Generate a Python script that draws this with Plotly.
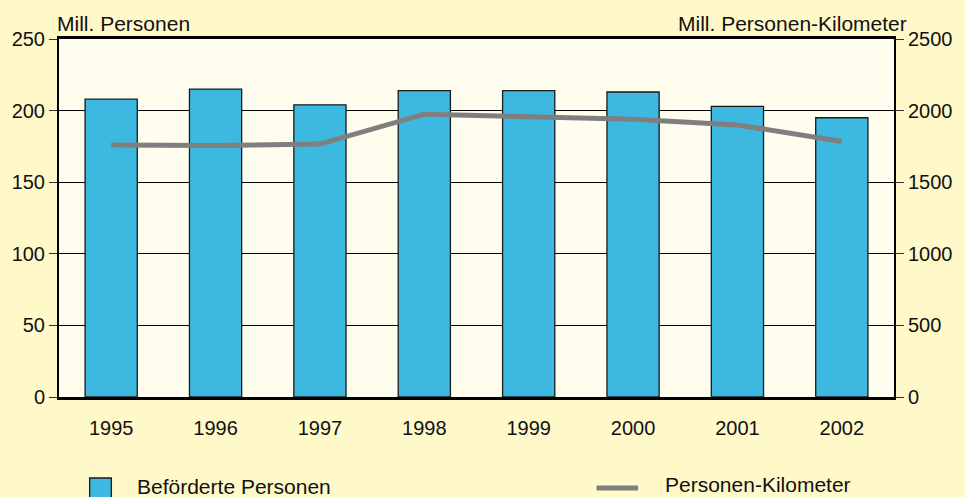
import plotly.graph_objects as go

# Data
years = ["1995", "1996", "1997", "1998", "1999", "2000", "2001", "2002"]
persons = [208, 215, 204, 214, 214, 213, 203, 195]            # Mill. Personen
person_km = [1760, 1757, 1766, 1975, 1957, 1940, 1900, 1784]  # Mill. Personen-Kilometer

left_ticks = [0, 50, 100, 150, 200, 250]
right_ticks = [0, 500, 1000, 1500, 2000, 2500]

# Styling
W, H = 965, 497
L, R, T, B = 57, 902, 39, 397
FONT = "Liberation Sans, Arial, sans-serif"
BAR_COLOR = "#3db8e0"
LINE_COLOR = "#7f7f7f"
PAPER_BG = "#fff9c9"
PLOT_BG = "#fffdee"


def px(x):
    return (x - L) / (R - L)


def py(y):
    return (B - y) / (B - T)


fig = go.Figure()
fig.add_trace(go.Bar(
    x=years, y=persons, name="Beförderte Personen",
    marker=dict(color=BAR_COLOR, line=dict(color="#1a1a1a", width=1.3)),
    yaxis="y",
))
fig.add_trace(go.Scatter(
    x=years, y=person_km, name="Personen-Kilometer", mode="lines",
    line=dict(color=LINE_COLOR, width=5),
    yaxis="y2",
))

fig.update_layout(
    width=W, height=H,
    margin=dict(l=L, r=W - R, t=T, b=H - B),
    paper_bgcolor=PAPER_BG, plot_bgcolor=PLOT_BG,
    font=dict(family=FONT, size=20, color="#111111"),
    showlegend=False,
    bargap=0.5,
    xaxis=dict(
        type="category", showgrid=False, ticks="",
        showline=True, linecolor="#000000", linewidth=2.5, mirror=True,
        ticklabelstandoff=11,
        tickfont=dict(size=20),
    ),
    yaxis=dict(
        range=[0, 250], tickvals=left_ticks,
        showgrid=True, gridcolor="#000000", gridwidth=1,
        zeroline=False,
        showline=True, linecolor="#000000", linewidth=2,
        ticks="outside", ticklen=8, tickcolor="#333333", tickwidth=1,
        tickfont=dict(size=20),
    ),
    yaxis2=dict(
        range=[0, 2500], tickvals=right_ticks, overlaying="y", side="right",
        showgrid=False, zeroline=False,
        showline=True, linecolor="#000000", linewidth=2,
        ticks="outside", ticklen=8, tickcolor="#333333", tickwidth=1,
        tickfont=dict(size=20),
    ),
)

annotations = [
    dict(text="Mill. Personen", x=px(57), y=py(23), xanchor="left", yanchor="middle", xshift=-4),
    dict(text="Mill. Personen-Kilometer", x=px(907), y=py(23), xanchor="right", yanchor="middle", xshift=10),
    dict(text="Beförderte Personen", x=px(137), y=py(486), xanchor="left", yanchor="middle", xshift=-3),
    dict(text="Personen-Kilometer", x=px(671), y=py(484), xanchor="left", yanchor="middle", xshift=-3),
]
for a in annotations:
    a.update(xref="paper", yref="paper", showarrow=False, font=dict(size=21, family=FONT, color="#111111"))
fig.update_layout(annotations=annotations)

# Legend keys
fig.add_shape(type="rect", xref="paper", yref="paper",
              x0=px(88), x1=px(110), y0=py(478), y1=py(502),
              fillcolor=BAR_COLOR, line=dict(color="#1a1a1a", width=1.3))
fig.add_shape(type="line", xref="paper", yref="paper",
              x0=px(601), x1=px(643), y0=py(488), y1=py(488),
              line=dict(color=LINE_COLOR, width=5))

fig.write_html("out.html")
